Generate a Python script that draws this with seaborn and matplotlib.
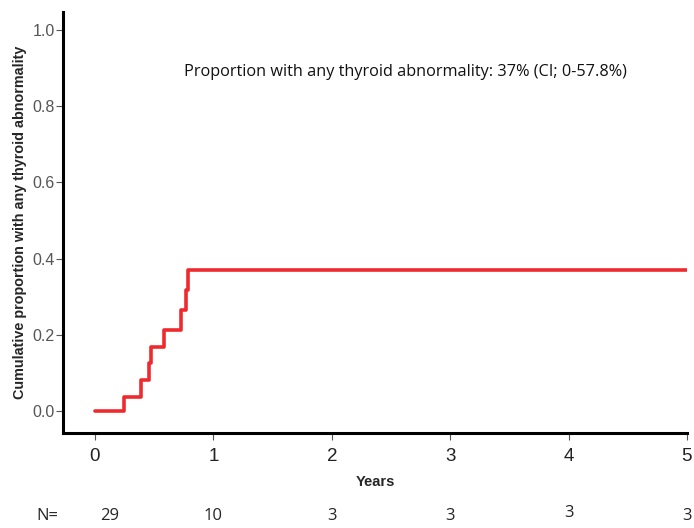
import matplotlib
matplotlib.use("Agg")
import matplotlib.pyplot as plt
import seaborn as sns
import pandas as pd

# Data
times = [0.0, 0.245, 0.39, 0.46, 0.475, 0.585, 0.726, 0.769, 0.785, 5.0]
cum_prop = [0.0, 0.037, 0.081, 0.125, 0.169, 0.213, 0.266, 0.318, 0.369, 0.369]
x_ticks = [0, 1, 2, 3, 4, 5]
y_ticks = [0.0, 0.2, 0.4, 0.6, 0.8, 1.0]
n_at_risk = ["29", "10", "3", "3", "3", "3"]
annotation = "Proportion with any thyroid abnormality: 37% (CI; 0-57.8%)"

sns.set_style("white")
plt.rcParams['font.family'] = ['Liberation Sans', 'DejaVu Sans']

df = pd.DataFrame({"Years": times, "Proportion": cum_prop})

fig = plt.figure(figsize=(6.94, 5.28), dpi=100)
ax = fig.add_axes([0.0908, 0.18, 0.899, 0.797])

sns.lineplot(data=df, x="Years", y="Proportion", ax=ax, color="#ee2a2e",
             linewidth=2.6, drawstyle="steps-post", sort=False)

ax.set_xlim(-0.27, 5.0)
ax.set_ylim(-0.058, 1.047)
ax.set_xticks(x_ticks)
ax.set_xticklabels([str(t) for t in x_ticks])
ax.set_yticks(y_ticks)
ax.set_yticklabels([f"{t:.1f}" for t in y_ticks])

for s in ["top", "right"]:
    ax.spines[s].set_visible(False)
for s in ["left", "bottom"]:
    ax.spines[s].set_color("black")
    ax.spines[s].set_linewidth(2.2)

ax.tick_params(axis="x", direction="out", length=5, width=0.8, color="#555555",
               labelsize=13.5, labelcolor="#222222", pad=6, bottom=True)
ax.tick_params(axis="y", direction="out", length=5, width=0.8, color="#555555",
               labelsize=11.5, labelcolor="#555555", pad=1, left=True)

ax.set_xlabel("Years", fontsize=10.5, fontweight="bold", labelpad=7)
ax.set_ylabel("Cumulative proportion with any thyroid abnormality", fontsize=10.4,
              fontweight="bold", labelpad=4)

ax.text(2.62, 0.89, annotation, fontsize=11.7, ha="center", va="center",
        family=["Open Sans", "DejaVu Sans"], color="#111111")

# N at risk row
fig.text(36 / 694, 1 - 516 / 528, "N=", fontsize=12, ha="left", va="center",
         family=["Open Sans", "DejaVu Sans"])
x_offsets = [15, 0, 0, 0, 0, 0]
y_offsets = [0, 0, 0, 0, -3, 0]
for t, n, dx, dy in zip(x_ticks, n_at_risk, x_offsets, y_offsets):
    xd = ax.transData.transform((t, 0))[0]
    fig.text((xd + dx) / 694, 1 - (516 + dy) / 528, n, fontsize=12,
             ha="center", va="center", family=["Open Sans", "DejaVu Sans"])

fig.savefig("out.png", dpi=100)
